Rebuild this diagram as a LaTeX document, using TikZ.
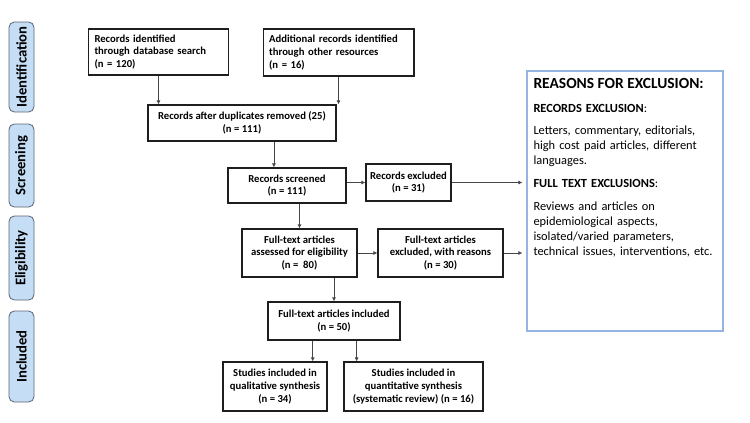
\documentclass[tikz,border=0pt]{standalone}
\usepackage{fontspec}
\setmainfont{Carlito}
\usetikzlibrary{arrows.meta,calc}

\tikzset{every picture/.style={line width=0.75pt}}
\tikzset{
  flowbox/.style={draw={rgb,255:red,30;green,30;blue,30}, line width=0.8pt, inner sep=2pt, align=center,
    font=\bfseries\fontsize{8}{9.5}\selectfont},
  phase/.style={draw={rgb,255:red,90;green,100;blue,115}, fill={rgb,255:red,197;green,222;blue,245},
    rounded corners=4pt, line width=0.6pt, minimum width=18.75pt, inner sep=0pt,
    font=\bfseries\fontsize{11}{13}\selectfont},
  link/.style={draw={rgb,255:red,70;green,70;blue,70}, line width=0.6pt, -{Latex[length=3pt,width=3pt]}},
  reasontext/.style={anchor=west, inner sep=0pt, align=left, text width=135pt,
    font=\fontsize{9.3}{11.25}\selectfont}
}

\begin{document}
\begin{tikzpicture}[x=0.75pt,y=0.75pt,yscale=-1,xscale=1]
\useasboundingbox (0,0) rectangle (750,422);

%Shape: Rounded Rect [phases]
\node [phase, minimum height=67.5pt] (pid) at (21.5,67) {\rotatebox{90}{Identification}};
\node [phase, minimum height=62.25pt] (pscr) at (21.5,165.5) {\rotatebox{90}{Screening}};
\node [phase, minimum height=63pt] (pel) at (21.5,258) {\rotatebox{90}{Eligibility}};
\node [phase, minimum height=68.25pt] (pinc) at (21.5,356.5) {\rotatebox{90}{Included}};

%Shape: Rectangle [identification]
\node [flowbox, align=left, text width=96pt, inner xsep=4.75pt, minimum height=34.5pt] (ident) at (158.5,52)
  {Records identified\\through database search\\(n = 120)};
\node [flowbox, align=left, text width=104pt, inner xsep=4.6pt, minimum height=35.25pt] (add) at (338.5,52.5)
  {Additional records identified\\through other resources\\(n = 16)};
\node [flowbox, minimum width=141pt, minimum height=27pt] (dup) at (242,123)
  {Records after duplicates removed (25)\\(n = 111)};

%Shape: Rectangle [screening]
\node [flowbox, minimum width=88.5pt, minimum height=26.25pt] (scr) at (287,185.5)
  {Records screened\\(n = 111)};
\node [flowbox, minimum width=63.75pt, minimum height=27.75pt] (exc) at (408.5,182.5)
  {Records excluded\\(n = 31)};

%Shape: Rectangle [eligibility]
\node [flowbox, minimum width=86.25pt, minimum height=36pt] (ass) at (299.5,253)
  {Full-text articles\\assessed for eligibility\\(n = ~80)};
\node [flowbox, minimum width=93.75pt, minimum height=36pt] (ftexc) at (440.5,253)
  {Full-text articles\\excluded, with reasons\\(n = 30)};

%Shape: Rectangle [included]
\node [flowbox, minimum width=99pt, minimum height=28.5pt] (inc) at (334,321)
  {Full-text articles included\\(n = 50)};
\node [flowbox, minimum width=78pt, minimum height=36.75pt] (qual) at (275,386.5)
  {Studies included in\\qualitative synthesis\\(n = 34)};
\node [flowbox, minimum width=104.25pt, minimum height=36.75pt] (quant) at (413.5,386.5)
  {Studies included in\\quantitative synthesis\\(systematic review) (n = 16)};

%Shape: Rectangle [reasons]
\node [draw={rgb,255:red,150;green,180;blue,225}, line width=0.8pt, minimum width=147pt, minimum height=195pt] (reas) at (625,201) {};

% Text Node
\node [anchor=west, inner sep=0pt, font=\bfseries\fontsize{11.6}{13}\selectfont] (rtitle) at (533,83) {REASONS FOR EXCLUSION:};
% Text Node
\node [reasontext] (rrec) at (533,108) {\textbf{RECORDS EXCLUSION}:};
% Text Node
\node [reasontext] (rrectxt) at (533,146) {Letters, commentary, editorials,\\high cost paid articles, different\\languages.};
% Text Node
\node [reasontext] (rfull) at (533,183) {\textbf{FULL TEXT EXCLUSIONS}:};
% Text Node
\node [reasontext] (rfulltxt) at (533,229) {Reviews and articles on\\epidemiological aspects,\\isolated/varied parameters,\\technical issues, interventions, etc.};

%Straight Lines [connectors]
\draw [link] (ident.south) -- (ident.south |- dup.north);
\draw [link] (add.south) -- (add.south |- dup.north);
\coordinate (dupout) at ($(scr.north west)!0.39!(scr.north east)$);
\draw [link] (dupout |- dup.south) -- (dupout);
\draw [link] (exc.west -| scr.east) -- (exc.west);
\draw [link] (exc.east) -- ([xshift=-3pt]exc.east -| reas.west);
\draw [link] (ass.north |- scr.south) -- (ass.north);
\draw [link] (ass.east) -- (ftexc.west);
\draw [link] (ftexc.east) -- ([xshift=-3pt]ftexc.east -| reas.west);
\draw [link] (inc.north |- ass.south) -- (inc.north);
\coordinate (incl) at ($(inc.south west)!0.34!(inc.south east)$);
\coordinate (incr) at ($(inc.south west)!0.67!(inc.south east)$);
\draw [link] (incl) -- (incl |- qual.north);
\draw [link] (incr) -- (incr |- quant.north);
\end{tikzpicture}
\end{document}
